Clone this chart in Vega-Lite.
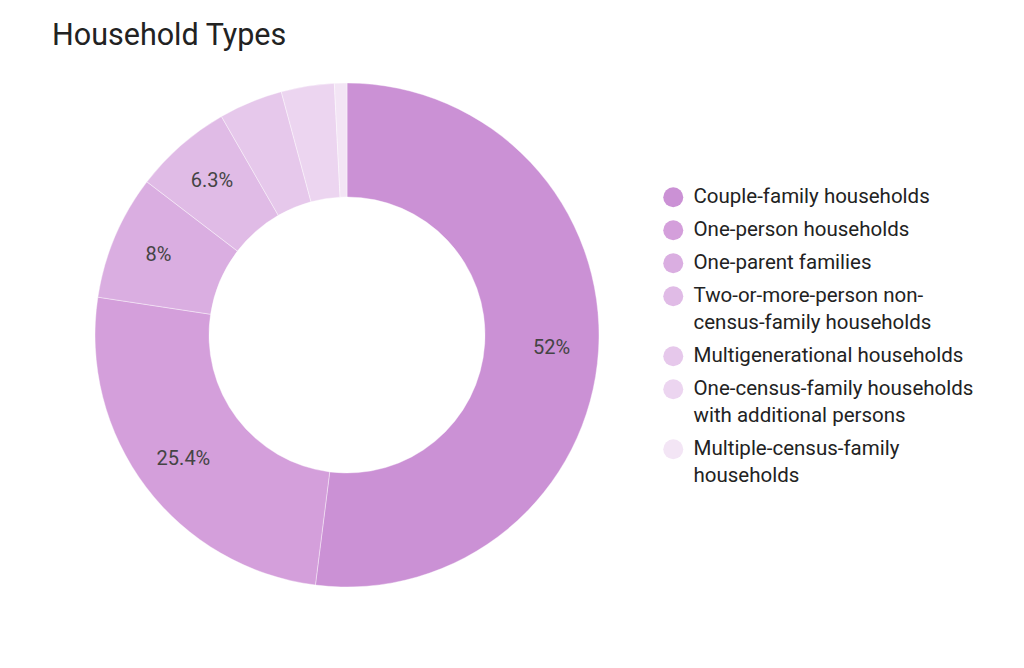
{
  "$schema": "https://vega.github.io/schema/vega-lite/v6.json",
  "autosize": {"type": "none"},
  "width": 530,
  "height": 530,
  "padding": {"left": 82, "top": 70, "right": 412, "bottom": 68},
  "background": "white",
  "config": {
    "view": {"stroke": null},
    "font": "Roboto",
    "style": {"guide-label": {"lineHeight": 27}}
  },
  "title": {
    "text": "Household Types",
    "anchor": "start",
    "frame": "group",
    "orient": "top",
    "baseline": "alphabetic",
    "dx": -30,
    "dy": 30,
    "offset": 25,
    "fontSize": 30.5,
    "fontWeight": "normal",
    "color": "#222222",
    "font": "Roboto"
  },
  "data": {
    "values": [
      {"type": "Couple-family households", "pct": 52, "order": 1},
      {"type": "One-person households", "pct": 25.4, "order": 2},
      {"type": "One-parent families", "pct": 8, "order": 3},
      {"type": "Two-or-more-person non-census-family households", "pct": 6.3, "order": 4},
      {"type": "Multigenerational households", "pct": 4.1, "order": 5},
      {"type": "One-census-family households with additional persons", "pct": 3.4, "order": 6},
      {"type": "Multiple-census-family households", "pct": 0.8, "order": 7}
    ]
  },
  "transform": [
    {"calculate": "datum.pct >= 5 ? datum.pct + '%' : ''", "as": "label"}
  ],
  "encoding": {
    "theta": {"field": "pct", "type": "quantitative", "stack": true},
    "order": {"field": "order", "type": "quantitative"}
  },
  "layer": [
    {
      "mark": {"type": "arc", "outerRadius": 252, "innerRadius": 138, "stroke": "white", "strokeWidth": 0.4},
      "encoding": {
        "color": {
          "field": "type",
          "type": "nominal",
          "sort": {"field": "order"},
          "scale": {
            "domain": [
              "Couple-family households",
              "One-person households",
              "One-parent families",
              "Two-or-more-person non-census-family households",
              "Multigenerational households",
              "One-census-family households with additional persons",
              "Multiple-census-family households"
            ],
            "range": ["#cb91d5", "#d49fdb", "#daaee1", "#e0bbe6", "#e6c8eb", "#ecd5f0", "#f3e5f5"]
          },
          "legend": {
            "title": null,
            "orient": "none",
            "legendX": 581,
            "legendY": 117,
            "symbolType": "circle",
            "symbolSize": 400,
            "symbolStrokeWidth": 0,
            "labelFontSize": 20.5,
            "labelFont": "Roboto",
            "labelColor": "#222222",
            "labelOffset": 10,
            "labelLimit": 400,
            "rowPadding": 12,
            "labelExpr": "datum.label == 'Two-or-more-person non-census-family households' ? ['Two-or-more-person non-', 'census-family households'] : datum.label == 'One-census-family households with additional persons' ? ['One-census-family households', 'with additional persons'] : datum.label == 'Multiple-census-family households' ? ['Multiple-census-family', 'households'] : datum.label",
            "encode": {
              "labels": {
                "enter": {"lineHeight": {"value": 27}},
                "update": {"lineHeight": {"value": 27}}
              }
            }
          }
        }
      }
    },
    {
      "mark": {"type": "text", "radius": 205, "fontSize": 20, "color": "#444444", "font": "Roboto"},
      "encoding": {
        "text": {"field": "label", "type": "nominal"}
      }
    }
  ]
}
